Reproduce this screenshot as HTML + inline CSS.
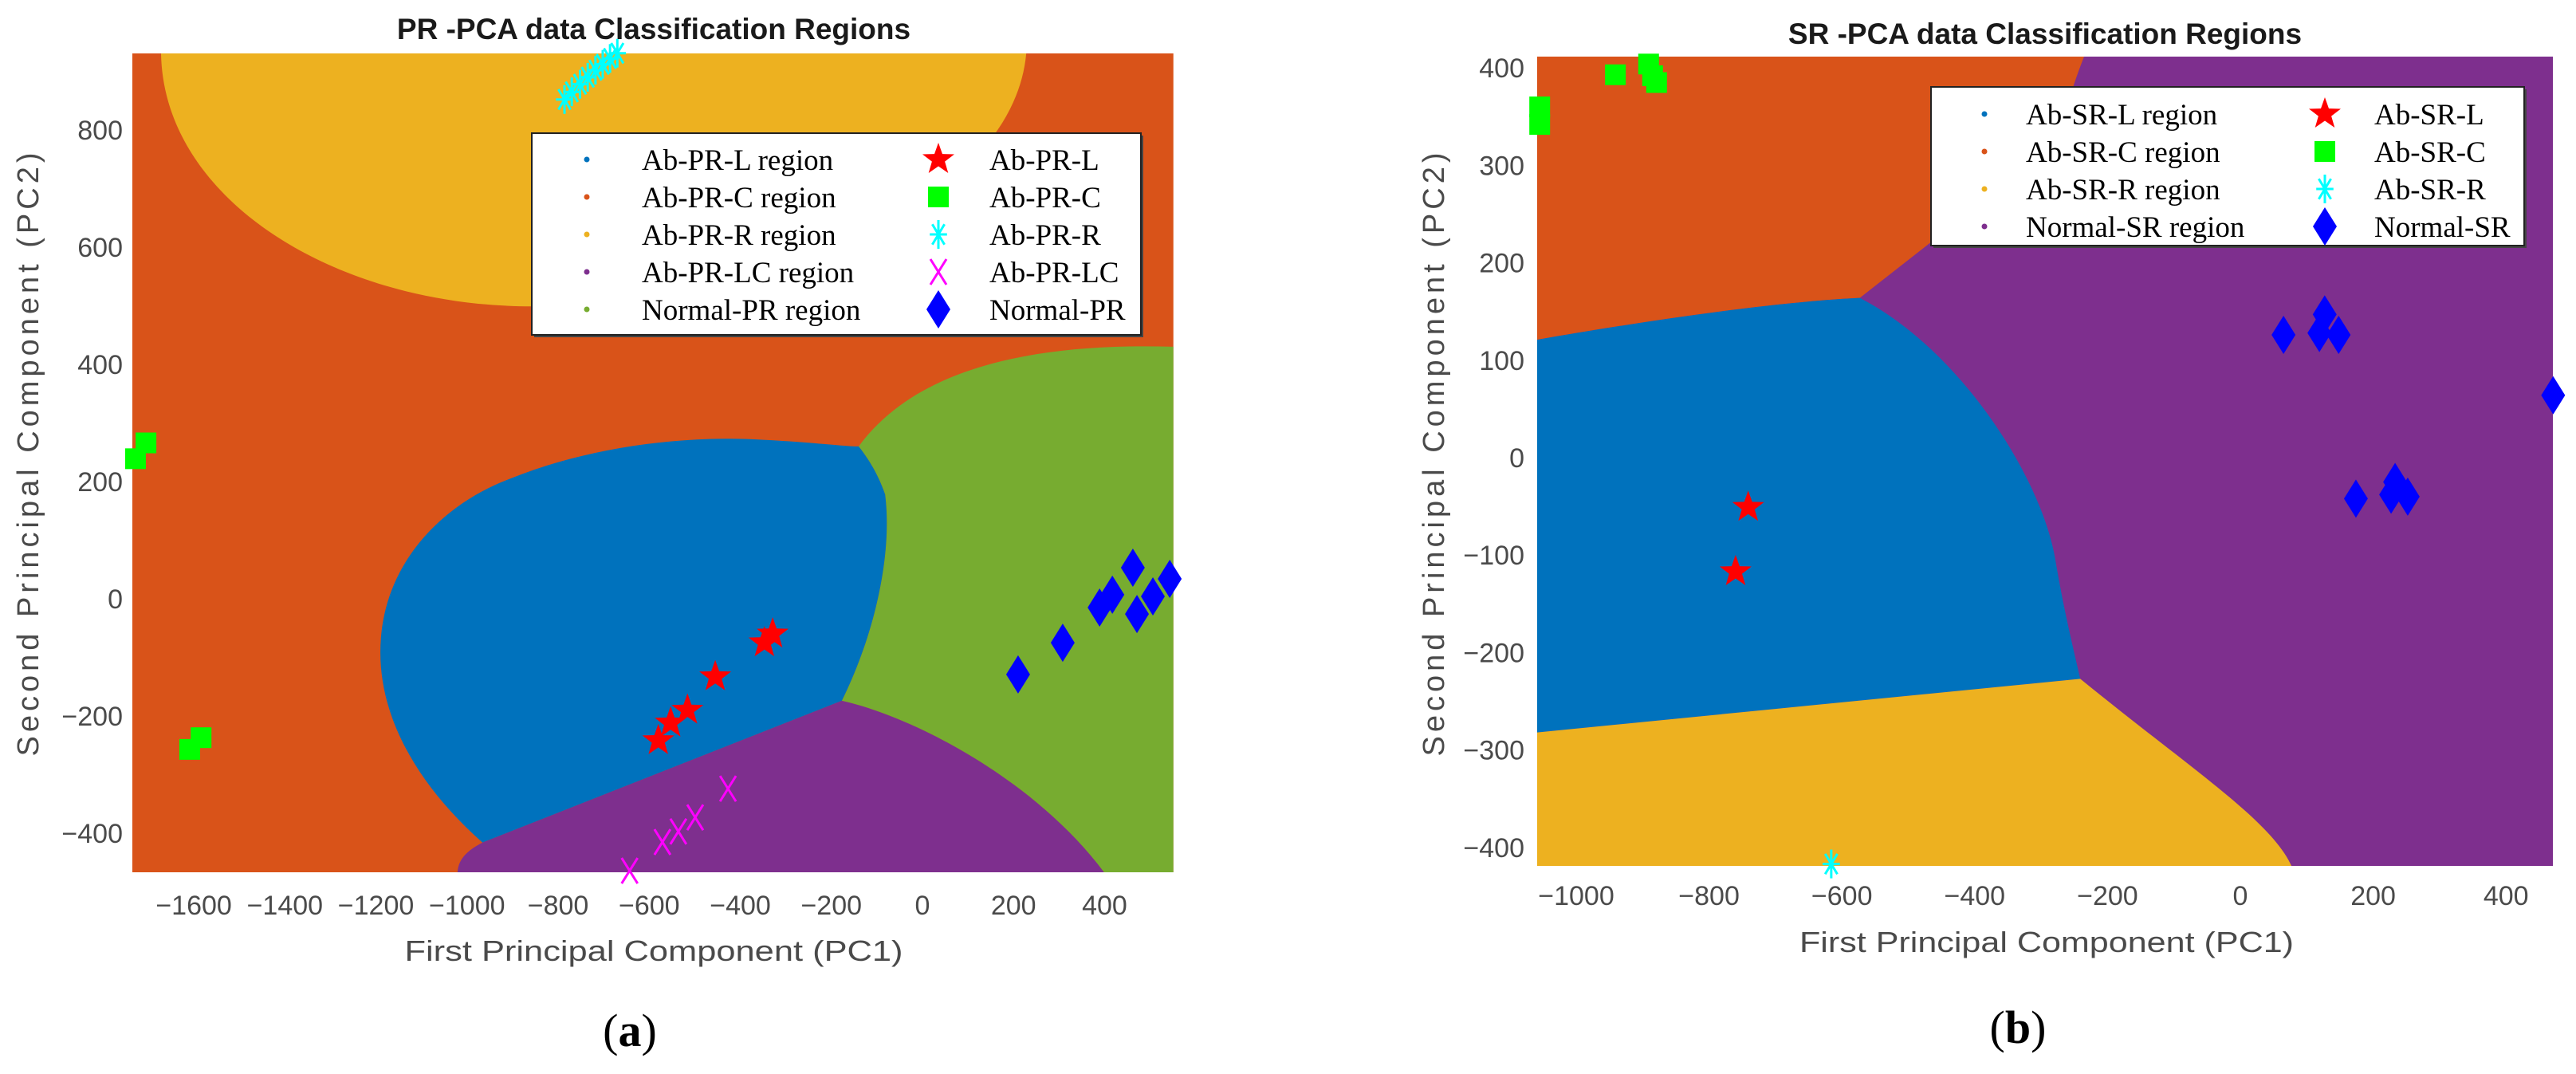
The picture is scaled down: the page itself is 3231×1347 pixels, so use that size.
<!DOCTYPE html>
<html><head><meta charset="utf-8"><style>
html,body{margin:0;padding:0;background:#fff;}
svg{display:block;}
</style></head><body>
<svg id="fig" width="3231" height="1347" viewBox="0 0 3231 1347" xmlns="http://www.w3.org/2000/svg">
<defs>
<clipPath id="clipA"><rect x="166" y="67" width="1306" height="1027"/></clipPath>
<clipPath id="clipB"><rect x="1928" y="71" width="1274" height="1015"/></clipPath>
</defs>
<g id="plotA"></g>
<g id="plotB"></g>
</svg>
<script>
// ---------- Panel (a) data ----------
const aXTicks = [-1600,-1400,-1200,-1000,-800,-600,-400,-200,0,200,400];
const aYTicks = [800,600,400,200,0,-200,-400];
const aRedX = [-580,-553,-516,-455,-347,-329];
const aRedY = [-242,-212,-190,-133,-75,-60];
const aCyanX = [-786,-770,-752,-735,-718,-702,-686,-670];
const aCyanY = [852,865,878,890,902,912,922,931];
const aGreenX = [-1728,-1705,-1609,-1584];
const aGreenY = [239,266,-257,-237];
const aMagX = [-643,-571,-536,-499,-427];
const aMagY = [-464,-415,-397,-373,-324];
const aBlueX = [210,308,389,417,462,471,506,543];
const aBlueY = [-129,-75,-15,7,53,-26,4,34];
const aYellowRegion = [['M',-1672,931],['C',-1667,682,-1290,499,-858,499],['C',-362,499,198,668,228,931],['Z']];
const aGreenRegion = [['M',-177,-174],['C',-109,-67,-65,69,-82,178],['C',-100,219,-126,246,-140,260],['C',-12,396,250,437,551,430],['L',551,-467],['L',399,-467],['C',250,-312,-12,-203,-177,-174],['Z']];
const aBlueRegion = [['M',-966,-416],['C',-1098,-325,-1203,-203,-1189,-67],['C',-1176,69,-1045,165,-905,205],['C',-730,260,-520,280,-345,271],['C',-240,267,-170,260,-140,260],['C',-126,246,-100,219,-82,178],['C',-65,69,-109,-67,-177,-174],['L',-966,-416],['Z']];
const aPurpleRegion = [['M',-1021,-467],['C',-1019,-441,-993,-427,-966,-416],['L',-177,-174],['C',-12,-203,250,-312,399,-467],['Z']];
const aLegendRegions = ['Ab-PR-L region','Ab-PR-C region','Ab-PR-R region','Ab-PR-LC region','Normal-PR region'];
const aLegendSeries = ['Ab-PR-L','Ab-PR-C','Ab-PR-R','Ab-PR-LC','Normal-PR'];

// ---------- Panel (b) data ----------
const bXTicks = [-1000,-800,-600,-400,-200,0,200,400];
const bYTicks = [400,300,200,100,0,-100,-200,-300,-400];
const bRedX = [-741,-760];
const bRedY = [-51,-117];
const bCyanX = [-616];
const bCyanY = [-417];
const bGreenX = [-1055,-1055,-941,-891,-879,-885];
const bGreenY = [360,342,393,404,385,392];
const bBlueX = [65,127,119,148,471,174,233,227,252];
const bBlueY = [126,147,128,126,64,-42,-25,-38,-40];
const bOrangeRegion = [['M',-1059,412],['L',-235,412],['C',-245,395,-253,378,-253,378],['L',-466,221],['L',-573,164],['C',-700,160,-900,140,-1059,121],['Z']];
const bBlueRegion = [['M',-1059,121],['C',-900,140,-700,160,-573,164],['C',-420,110,-300,-21,-279,-103],['C',-265,-160,-250,-200,-241,-227],['L',-1059,-282],['Z']];
const bYellowRegion = [['M',-1059,-282],['L',-241,-227],['C',-79,-317,46,-372,77,-419],['L',-1059,-419],['Z']];
const bLegendRegions = ['Ab-SR-L  region','Ab-SR-C region','Ab-SR-R region','Normal-SR region'];
const bLegendSeries = ['Ab-SR-L','Ab-SR-C','Ab-SR-R','Normal-SR'];

const NS = 'http://www.w3.org/2000/svg';
const C = {blue:'#0072BD',orange:'#D95319',yellow:'#EDB120',purple:'#7E2F8E',green:'#77AC30'};
function mk(tag, attrs, parent){const e=document.createElementNS(NS,tag);for(const k in attrs)e.setAttribute(k,attrs[k]);if(parent)parent.appendChild(e);return e;}
function regionPath(cmds, sx, sy){
  let d='';
  cmds.forEach(c=>{
    if(c[0]==='Z'){d+='Z';return;}
    d+=c[0];
    for(let i=1;i<c.length;i+=2){d+=sx(c[i]).toFixed(1)+','+sy(c[i+1]).toFixed(1)+' ';}
  });
  return d;
}
function starPath(cx,cy,R,r){let d='';for(let i=0;i<10;i++){const a=-Math.PI/2+i*Math.PI/5;const rr=i%2?r:R;d+=(i?'L':'M')+(cx+rr*Math.cos(a)).toFixed(1)+','+(cy+rr*Math.sin(a)).toFixed(1);}return d+'Z';}
function drawStar(g,x,y){const e=mk('path',{d:starPath(x,y,21,8.5),fill:'#ff0000'},g);return e;}
function drawSquare(g,x,y){const e=mk('rect',{x:x-13,y:y-13,width:26,height:26,fill:'#00ff00'},g);return e;}
function drawAsterisk(g,x,y){const gg=mk('g',{stroke:'#00ffff','stroke-width':3},g);
  for(let i=0;i<4;i++){const a=i*Math.PI/4+Math.PI/2;const dx=18*Math.cos(a)*0.6,dy=18*Math.sin(a);mk('line',{x1:x-dx,y1:y-dy,x2:x+dx,y2:y+dy},gg);}return gg;}
function drawCross(g,x,y){const gg=mk('g',{stroke:'#ff00ff','stroke-width':3},g);
  mk('line',{x1:x-10,y1:y-16,x2:x+10,y2:y+16},gg);mk('line',{x1:x+10,y1:y-16,x2:x-10,y2:y+16},gg);return gg;}
function drawDiamond(g,x,y){const e=mk('path',{d:`M${x},${y-24}L${x+15},${y}L${x},${y+24}L${x-15},${y}Z`,fill:'#0000ff'},g);return e;}
function txt(g,s,attrs,name){const e=mk('text',attrs,g);e.textContent=s;return e;}

function buildPanel(cfg){
  const root=document.getElementById(cfg.id);
  const sx=v=>cfg.x0+v*cfg.kx, sy=v=>cfg.y0-v*cfg.ky;
  const L=sx(cfg.xmin),R=sx(cfg.xmax),T=sy(cfg.ymax),B=sy(cfg.ymin);
  const plot=mk('g',{'clip-path':`url(#${cfg.clip})`},root);
  
  
  const bg=mk('rect',{x:L,y:T,width:R-L,height:B-T,fill:cfg.bg},plot);
  
  
  cfg.regions.forEach(r=>{const p=mk('path',{d:regionPath(r.cmds,sx,sy),fill:r.color},plot);
    
    });
  const mg=mk('g',{},root);
  
  
  cfg.series.forEach(s=>{s.xs.forEach((v,i)=>s.fn(mg,sx(v),sy(s.ys[i])));});
  // ticks
  cfg.xticks.forEach(t=>txt(root,t<0?'−'+Math.abs(t):String(t),{x:sx(t),y:cfg.xtickY,'font-family':'Liberation Sans, sans-serif','font-size':34,fill:'#4a4a4a','text-anchor':'middle'},'x-tick-label'));
  cfg.yticks.forEach(t=>txt(root,t<0?'−'+Math.abs(t):String(t),{x:cfg.ytickX,y:sy(t)+12,'font-family':'Liberation Sans, sans-serif','font-size':34,fill:'#4a4a4a','text-anchor':'end'},'y-tick-label'));
  txt(root,cfg.title,{x:cfg.titleX,y:cfg.titleY,'font-family':'Liberation Sans, sans-serif','font-size':37,'font-weight':'bold',fill:'#1a1a1a','text-anchor':'middle'},'chart-title');
  txt(root,'First Principal Component (PC1)',{x:cfg.xlabX,y:cfg.xlabY,'font-family':'Liberation Sans, sans-serif','font-size':36,fill:'#4a4a4a','text-anchor':'middle',textLength:cfg.xlabLen,lengthAdjust:'spacingAndGlyphs'},'x-axis-title');
  txt(root,'Second Principal Component (PC2)',{x:0,y:0,transform:`translate(${cfg.ylabX},${cfg.ylabY}) rotate(-90)`,'font-family':'Liberation Sans, sans-serif','font-size':38,fill:'#4a4a4a','text-anchor':'middle',textLength:757,lengthAdjust:'spacing'},'y-axis-title');
  const sub=txt(root,'',{x:cfg.subX,y:cfg.subY,'font-family':'Liberation Serif, serif','font-size':58,fill:'#000','text-anchor':'middle'},'panel-label');
  const t1=mk('tspan',{},sub);t1.textContent='(';const t2=mk('tspan',{'font-weight':'bold'},sub);t2.textContent=cfg.letter;const t3=mk('tspan',{},sub);t3.textContent=')';
  // legend
  const lg=mk('g',{},root);
  
  
  const lb=cfg.legend;
  mk('rect',{x:lb.x+3,y:lb.y+3,width:lb.w,height:lb.h,fill:'#444'},lg);
  mk('rect',{x:lb.x,y:lb.y,width:lb.w,height:lb.h,fill:'#fff',stroke:'#222','stroke-width':2},lg);
  cfg.legRegions.forEach((s,i)=>{const y=lb.row0+i*47;
    const d=mk('circle',{cx:lb.m1,cy:y,r:3.5,fill:cfg.legColors[i]},lg);
    
    
    txt(lg,s,{x:lb.t1,y:y+13,'font-family':'Liberation Serif, serif','font-size':37,fill:'#000'},'legend-entry');
    cfg.legFns[i](lg,lb.m2,y);
    txt(lg,cfg.legSeries[i],{x:lb.t2,y:y+13,'font-family':'Liberation Serif, serif','font-size':37,fill:'#000'},'legend-entry');
  });
}

buildPanel({id:'plotA',clip:'clipA',x0:1157,kx:0.5712,y0:751,ky:0.735,xmin:-1735,xmax:551,ymin:-467,ymax:931,bg:C.orange,
  regions:[{cmds:aYellowRegion,color:C.yellow,name:'ab-pr-r-region'},{cmds:aGreenRegion,color:C.green,name:'normal-pr-region'},{cmds:aBlueRegion,color:C.blue,name:'ab-pr-l-region'},{cmds:aPurpleRegion,color:C.purple,name:'ab-pr-lc-region'}],
  series:[{xs:aGreenX,ys:aGreenY,fn:drawSquare},{xs:aCyanX,ys:aCyanY,fn:drawAsterisk},{xs:aMagX,ys:aMagY,fn:drawCross},{xs:aRedX,ys:aRedY,fn:drawStar},{xs:aBlueX,ys:aBlueY,fn:drawDiamond}],
  xticks:aXTicks,yticks:aYTicks,xtickY:1147,ytickX:154,title:'PR -PCA data Classification Regions',titleX:820,titleY:49,
  xlabX:820,xlabY:1205,xlabLen:625,ylabX:48,ylabY:570,subX:790,subY:1312,letter:'a',
  legend:{x:667,y:167,w:764,h:253,row0:200,m1:736,t1:805,m2:1177,t2:1241},
  legRegions:aLegendRegions,legSeries:aLegendSeries,legColors:[C.blue,C.orange,C.yellow,C.purple,C.green],
  legFns:[drawStar,drawSquare,drawAsterisk,drawCross,drawDiamond]});

buildPanel({id:'plotB',clip:'clipB',x0:2810,kx:0.833,y0:574,ky:1.222,xmin:-1059,xmax:471,ymin:-419,ymax:412,bg:C.purple,
  regions:[{cmds:bOrangeRegion,color:C.orange,name:'ab-sr-c-region'},{cmds:bBlueRegion,color:C.blue,name:'ab-sr-l-region'},{cmds:bYellowRegion,color:C.yellow,name:'ab-sr-r-region'}],
  series:[{xs:bGreenX,ys:bGreenY,fn:drawSquare},{xs:bCyanX,ys:bCyanY,fn:drawAsterisk},{xs:bRedX,ys:bRedY,fn:drawStar},{xs:bBlueX,ys:bBlueY,fn:drawDiamond}],
  xticks:bXTicks,yticks:bYTicks,xtickY:1135,ytickX:1912,title:'SR -PCA data Classification Regions',titleX:2565,titleY:55,
  xlabX:2567,xlabY:1194,xlabLen:620,ylabX:1811,ylabY:570,subX:2531,subY:1308,letter:'b',
  legend:{x:2422,y:109,w:744,h:199,row0:143,m1:2489,t1:2541,m2:2916,t2:2978},
  legRegions:bLegendRegions,legSeries:bLegendSeries,legColors:[C.blue,C.orange,C.yellow,C.purple],
  legFns:[drawStar,drawSquare,drawAsterisk,drawDiamond]});
</script>
</body></html>
